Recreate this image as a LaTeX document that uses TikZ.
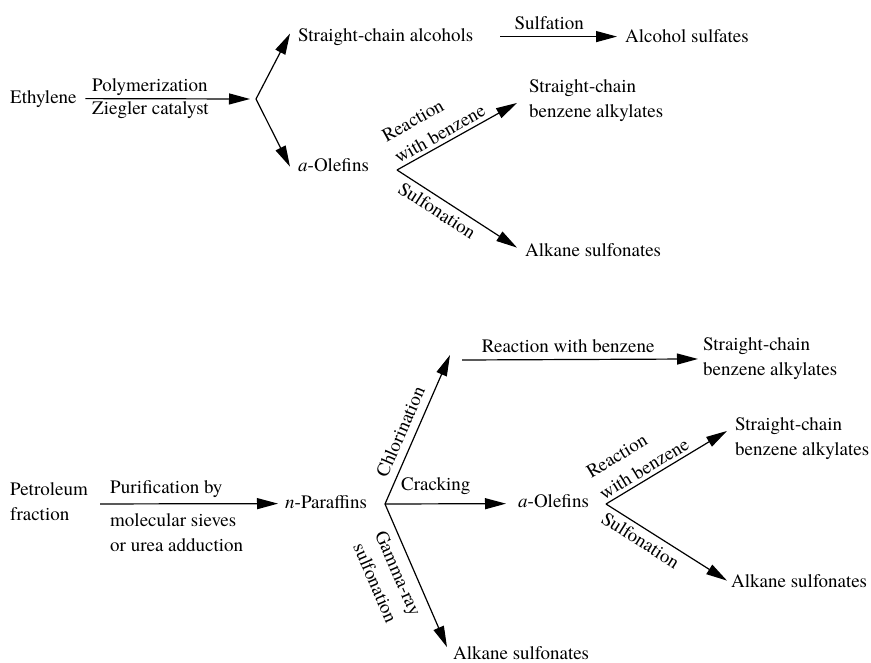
\documentclass[tikz,border=0pt]{standalone}
\usepackage{fontspec}
\setmainfont{texgyretermes}[Extension=.otf, UprightFont=*-regular, ItalicFont=*-italic, BoldFont=*-bold]
\usetikzlibrary{arrows.meta}
\begin{document}
\begin{tikzpicture}[x=1pt,y=-1pt,
  txt/.style={inner sep=0pt, font=\fontsize{19}{25}\selectfont},
  mtxt/.style={txt, align=left},
  arr/.style={line width=1.2pt, -{Triangle[length=21pt,width=11pt]}},
  slab/.style={txt, sloped, align=left, inner ysep=#1},
  slab/.default=4pt]
\useasboundingbox (0,0) rectangle (871,662);

% ---------- top part ----------
\node[txt, anchor=base west] (eth) at (10,103) {Ethylene};
\node[txt, anchor=base west] (poly) at (92,91) {Polymerization};
\node[txt, anchor=base west] (zieg) at (92,114) {Ziegler catalyst};
\coordinate (b1) at (256,99);
\node[txt, anchor=base west] (sca) at (298,41) {Straight-chain alcohols};
\node[txt, anchor=base west] (ao1) at (298,171) {\textit{a}-Olefins};
\node[txt, anchor=base west] (alc) at (625,42) {Alcohol sulfates};
\coordinate (b2) at (397,170);
\node[mtxt, anchor=north west] (sba1) at (529,79.7) {Straight-chain\\benzene alkylates};
\node[txt, anchor=base west] (as1) at (525,256) {Alkane sulfonates};

\draw[arr, shorten <=8.5pt] (eth.east) -- ([xshift=-6pt]b1);
\draw[arr] (b1) -- ([xshift=-8pt,yshift=3pt]sca.west);
\draw[arr] (b1) -- ([xshift=-8pt,yshift=-2pt]ao1.west);
\draw[arr, shorten <=27pt, shorten >=8pt] (sca.east) -- node[txt, midway, above=6pt] (sulf) {Sulfation} (sca.east -| alc.west);
\draw[arr] (b2) -- node[slab=3.5pt, pos=0.4, above] (rwb1) {Reaction\\with benzene} ([xshift=-12pt,yshift=-2pt]sba1.west);
\draw[arr] (b2) -- node[slab=5pt, pos=0.39, below] (sfn1) {Sulfonation} ([xshift=-8pt,yshift=2pt]as1.west);

% ---------- bottom part ----------
\node[mtxt, anchor=north west] (pf) at (10,482.7) {Petroleum\\fraction};
\node[txt, anchor=base west] (pur) at (110,493) {Purification by};
\node[mtxt, anchor=north west] (mol) at (110,513.7) {molecular sieves\\or urea adduction};
\node[txt, anchor=base west] (np) at (285,508) {\textit{n}-Paraffins};
\coordinate (b3) at (385,504);
\coordinate (c1) at (450,355);
\coordinate (c2) at (462,360);
\node[mtxt, anchor=north west] (sba2) at (703,337.7) {Straight-chain\\benzene alkylates};
\node[txt, anchor=base west] (ao2) at (518,507) {\textit{a}-Olefins};
\node[txt, anchor=base west] (as3) at (453,659.5) {Alkane sulfonates};
\coordinate (b4) at (606,504);
\node[mtxt, anchor=north west] (sba3) at (735,417.7) {Straight-chain\\benzene alkylates};
\node[txt, anchor=base west] (as4) at (731,587) {Alkane sulfonates};

\draw[arr, shorten <=12pt] ([yshift=-2pt]pf.east) -- ([xshift=-7pt,yshift=-2pt]np.west);
\draw[arr] (b3) -- node[slab=7.5pt, pos=0.445, above] (chl) {Chlorination} (c1);
\draw[arr] (c2) -- node[txt, pos=0.45, above=6pt] (rwb2) {Reaction with benzene} ([xshift=-5pt]sba2.west);
\draw[arr] (b3) -- node[txt, pos=0.42, above=9pt] (crk) {Cracking} ([xshift=-12pt,yshift=-3pt]ao2.west);
\draw[arr] (b3) -- node[slab=8pt, pos=0.44, below, align=center] (gam) {Gamma-ray\\sulfonation} ([xshift=-6pt,yshift=6pt]as3.west);
\draw[arr] (b4) -- node[slab=3.5pt, pos=0.36, above] (rwb3) {Reaction\\with benzene} ([xshift=-8pt,yshift=8pt]sba3.west);
\draw[arr] (b4) -- node[slab=5pt, pos=0.34, below] (sfn2) {Sulfonation} ([xshift=-4pt]as4.west);
\end{tikzpicture}
\end{document}
